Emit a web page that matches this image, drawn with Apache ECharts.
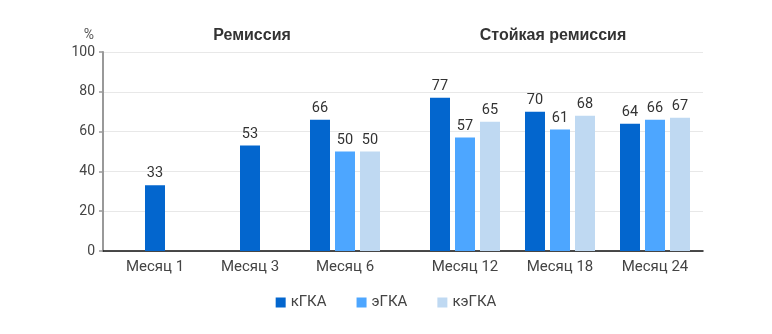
<!DOCTYPE html>
<html>
<head>
<meta charset="utf-8">
<script src="https://cdn.jsdelivr.net/npm/echarts@6/dist/echarts.min.js"></script>
<style>html,body{margin:0;padding:0;background:#fff}#c{width:772px;height:334px}</style>
</head>
<body>
<div id="c"></div>
<script>
var categoriesLeft = ['Месяц 1', 'Месяц 3', 'Месяц 6'];
var categoriesRight = ['Месяц 12', 'Месяц 18', 'Месяц 24'];
var groupTitles = ['Ремиссия', 'Стойкая ремиссия'];
var seriesNames = ['кГКА', 'эГКА', 'кэГКА'];
var kGKA = [33, 53, 66, 77, 70, 64];
var eGKA = [null, null, 50, 57, 61, 66];
var keGKA = [null, null, 50, 65, 68, 67];
var yTicks = [0, 20, 40, 60, 80, 100];
var colors = ['#0366CE', '#4DA6FF', '#BFD9F2'];

var FONT = 'Roboto';
var allSeries = [kGKA, eGKA, keGKA];

function labelCfg() {
  return { show: true, position: 'top', distance: 4, color: '#333', fontSize: 14.5, fontFamily: FONT };
}

var series = [];
var nL = categoriesLeft.length;
allSeries.forEach(function (arr, i) {
  var d = [];
  for (var k = 0; k < nL; k++) {
    d.push(eGKA[k] == null ? null : arr[k]);
  }
  series.push({ name: seriesNames[i], type: 'bar', xAxisIndex: 1, yAxisIndex: 1, data: d,
    barWidth: 20, barGap: '25%', itemStyle: { color: colors[i] }, label: labelCfg() });
});
var single = [];
for (var k = 0; k < nL; k++) single.push(eGKA[k] == null ? kGKA[k] : null);
series.push({ name: seriesNames[0], type: 'bar', xAxisIndex: 2, yAxisIndex: 2, data: single,
  barWidth: 20, itemStyle: { color: colors[0] }, label: labelCfg() });
allSeries.forEach(function (arr, i) {
  series.push({ name: seriesNames[i], type: 'bar', xAxisIndex: 3, yAxisIndex: 3,
    data: arr.slice(nL), barWidth: 20, barGap: '25%', itemStyle: { color: colors[i] }, label: labelCfg() });
});

var hiddenY = function (gi) {
  return { type: 'value', gridIndex: gi, min: 0, max: 100, interval: 20, show: false };
};
var catAxis = function (gi, cats, showLabels) {
  return { type: 'category', gridIndex: gi, data: cats,
    axisLine: { show: false }, axisTick: { show: false },
    axisLabel: { show: showLabels, color: '#444', fontSize: 15, fontFamily: FONT, margin: 9 } };
};

var option = {
  animation: false,
  textStyle: { fontFamily: FONT },
  color: colors,
  grid: [
    { left: 103, width: 600, top: 52, height: 199 },
    { left: 107.5, width: 285, top: 52, height: 199 },
    { left: 107.5, width: 285, top: 52, height: 199 },
    { left: 417.5, width: 285, top: 52, height: 199 }
  ],
  xAxis: [
    { type: 'category', gridIndex: 0, data: [''],
      axisLine: { show: true, lineStyle: { color: '#111', width: 1.5 } },
      axisTick: { show: false }, axisLabel: { show: false } },
    catAxis(1, categoriesLeft, true),
    catAxis(2, categoriesLeft, false),
    catAxis(3, categoriesRight, true)
  ],
  yAxis: [
    { type: 'value', gridIndex: 0, min: yTicks[0], max: yTicks[yTicks.length - 1], interval: 20,
      axisLine: { show: true, lineStyle: { color: '#999', width: 2 } },
      axisTick: { show: true, length: 4, lineStyle: { color: '#999', width: 1.5 } },
      axisLabel: { color: '#444', fontSize: 14, fontFamily: FONT, margin: 8 },
      splitLine: { show: true, lineStyle: { color: '#e8e8e8', width: 1.2 } } },
    hiddenY(1), hiddenY(2), hiddenY(3)
  ],
  legend: {
    data: seriesNames, bottom: 19, left: 'center', itemWidth: 10, itemHeight: 10, itemGap: 30,
    icon: 'rect', textStyle: { color: '#444', fontSize: 15, fontFamily: FONT }
  },
  graphic: [
    { type: 'text', x: 252, y: 36, style: { text: groupTitles[0], fill: '#333', font: 'bold 16px "Liberation Sans"', align: 'center', verticalAlign: 'middle' } },
    { type: 'text', x: 553, y: 36, style: { text: groupTitles[1], fill: '#333', font: 'bold 16px "Liberation Sans"', align: 'center', verticalAlign: 'middle' } },
    { type: 'text', x: 89, y: 35, style: { text: '%', fill: '#555', fontSize: 14, fontFamily: FONT, align: 'center', verticalAlign: 'middle' } }
  ],
  series: series
};
echarts.init(document.getElementById('c')).setOption(option);
</script>
</body>
</html>
